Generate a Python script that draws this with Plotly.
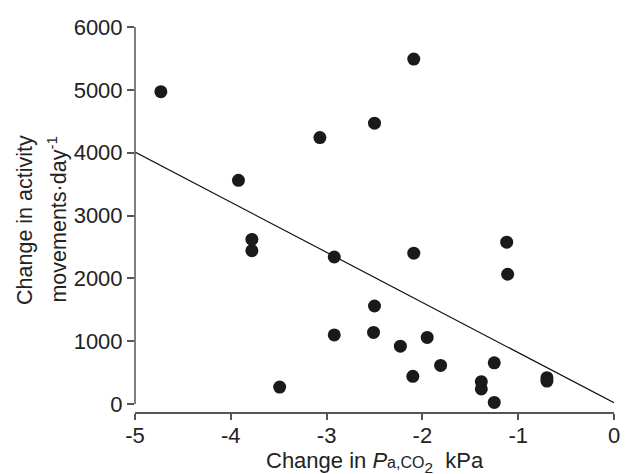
import plotly.graph_objects as go

# Data
pco2_change = [-4.73, -2.09, -2.50, -3.07, -3.92, -3.78, -3.78, -2.92, -2.09, -1.12,
               -1.11, -2.50, -2.92, -2.51, -1.95, -2.23, -1.81, -2.10, -1.25, -1.385,
               -1.385, -1.25, -0.70, -0.70, -3.49]
activity_change = [4970, 5490, 4470, 4240, 3560, 2620, 2440, 2340, 2400, 2575,
                   2065, 1560, 1100, 1140, 1060, 920, 615, 440, 655, 355,
                   240, 25, 420, 365, 270]
fit_x = [-5, 0]
fit_y = [4010, 20]

x_ticks = [-5, -4, -3, -2, -1, 0]
y_ticks = [0, 1000, 2000, 3000, 4000, 5000, 6000]

FONT = "Liberation Sans, Arial, sans-serif"
AXIS_COLOR = "#555555"
TXT = "#222222"
FS = 22

fig = go.Figure()
fig.add_trace(go.Scatter(x=fit_x, y=fit_y, mode="lines",
                         line=dict(color="#111111", width=1.2), hoverinfo="skip"))
fig.add_trace(go.Scatter(x=pco2_change, y=activity_change, mode="markers",
                         marker=dict(color="#1a1a1a", size=13, line=dict(width=0))))

fig.update_layout(
    width=625, height=474,
    margin=dict(l=135, r=5, t=27, b=62),
    paper_bgcolor="white", plot_bgcolor="white",
    showlegend=False,
    font=dict(family=FONT, size=FS, color=TXT),
    xaxis=dict(range=[-5, 0], tickvals=x_ticks, ticktext=[str(v) for v in x_ticks],
               showgrid=False, zeroline=False, showline=True, linecolor=AXIS_COLOR,
               linewidth=1.5, ticks="outside", ticklen=6, tickwidth=1.5,
               tickcolor=AXIS_COLOR, tickfont=dict(size=FS),
               ticklabeloverflow="allow", ticklabelstandoff=-3),
    yaxis=dict(range=[-127, 6000], tickvals=y_ticks, ticktext=[str(v) for v in y_ticks],
               showgrid=False, zeroline=False, showline=False,
               ticks="outside", ticklen=7, tickwidth=1.5, tickcolor=AXIS_COLOR,
               tickfont=dict(size=FS), ticklabeloverflow="allow"),
)

# y-axis line spanning only the 0..6000 range (detached from the x axis)
fig.add_shape(type="line", xref="paper", yref="y", x0=0, x1=0, y0=0, y1=6000,
              line=dict(color=AXIS_COLOR, width=1.5))

fig.add_annotation(text="Change in activity",
                   xref="paper", yref="paper", x=-0.2308, y=0.5, showarrow=False,
                   textangle=-90, font=dict(size=21.5), xanchor="center", yanchor="middle")
fig.add_annotation(text="movements·day<sup>-1</sup>",
                   xref="paper", yref="paper", x=-0.1648, y=0.5, showarrow=False,
                   textangle=-90, font=dict(size=21.5), xanchor="center", yanchor="middle")
fig.add_annotation(text="Change in <i>P</i><span style='font-size:16px'>a,CO</span><sub>2</sub>  kPa",
                   xref="paper", yref="paper", x=0.5, y=-0.129, showarrow=False,
                   font=dict(size=22), xanchor="center", yanchor="middle")

fig.write_html("out.html", config={"displayModeBar": False},
               post_script="document.body.style.margin='0px';")
